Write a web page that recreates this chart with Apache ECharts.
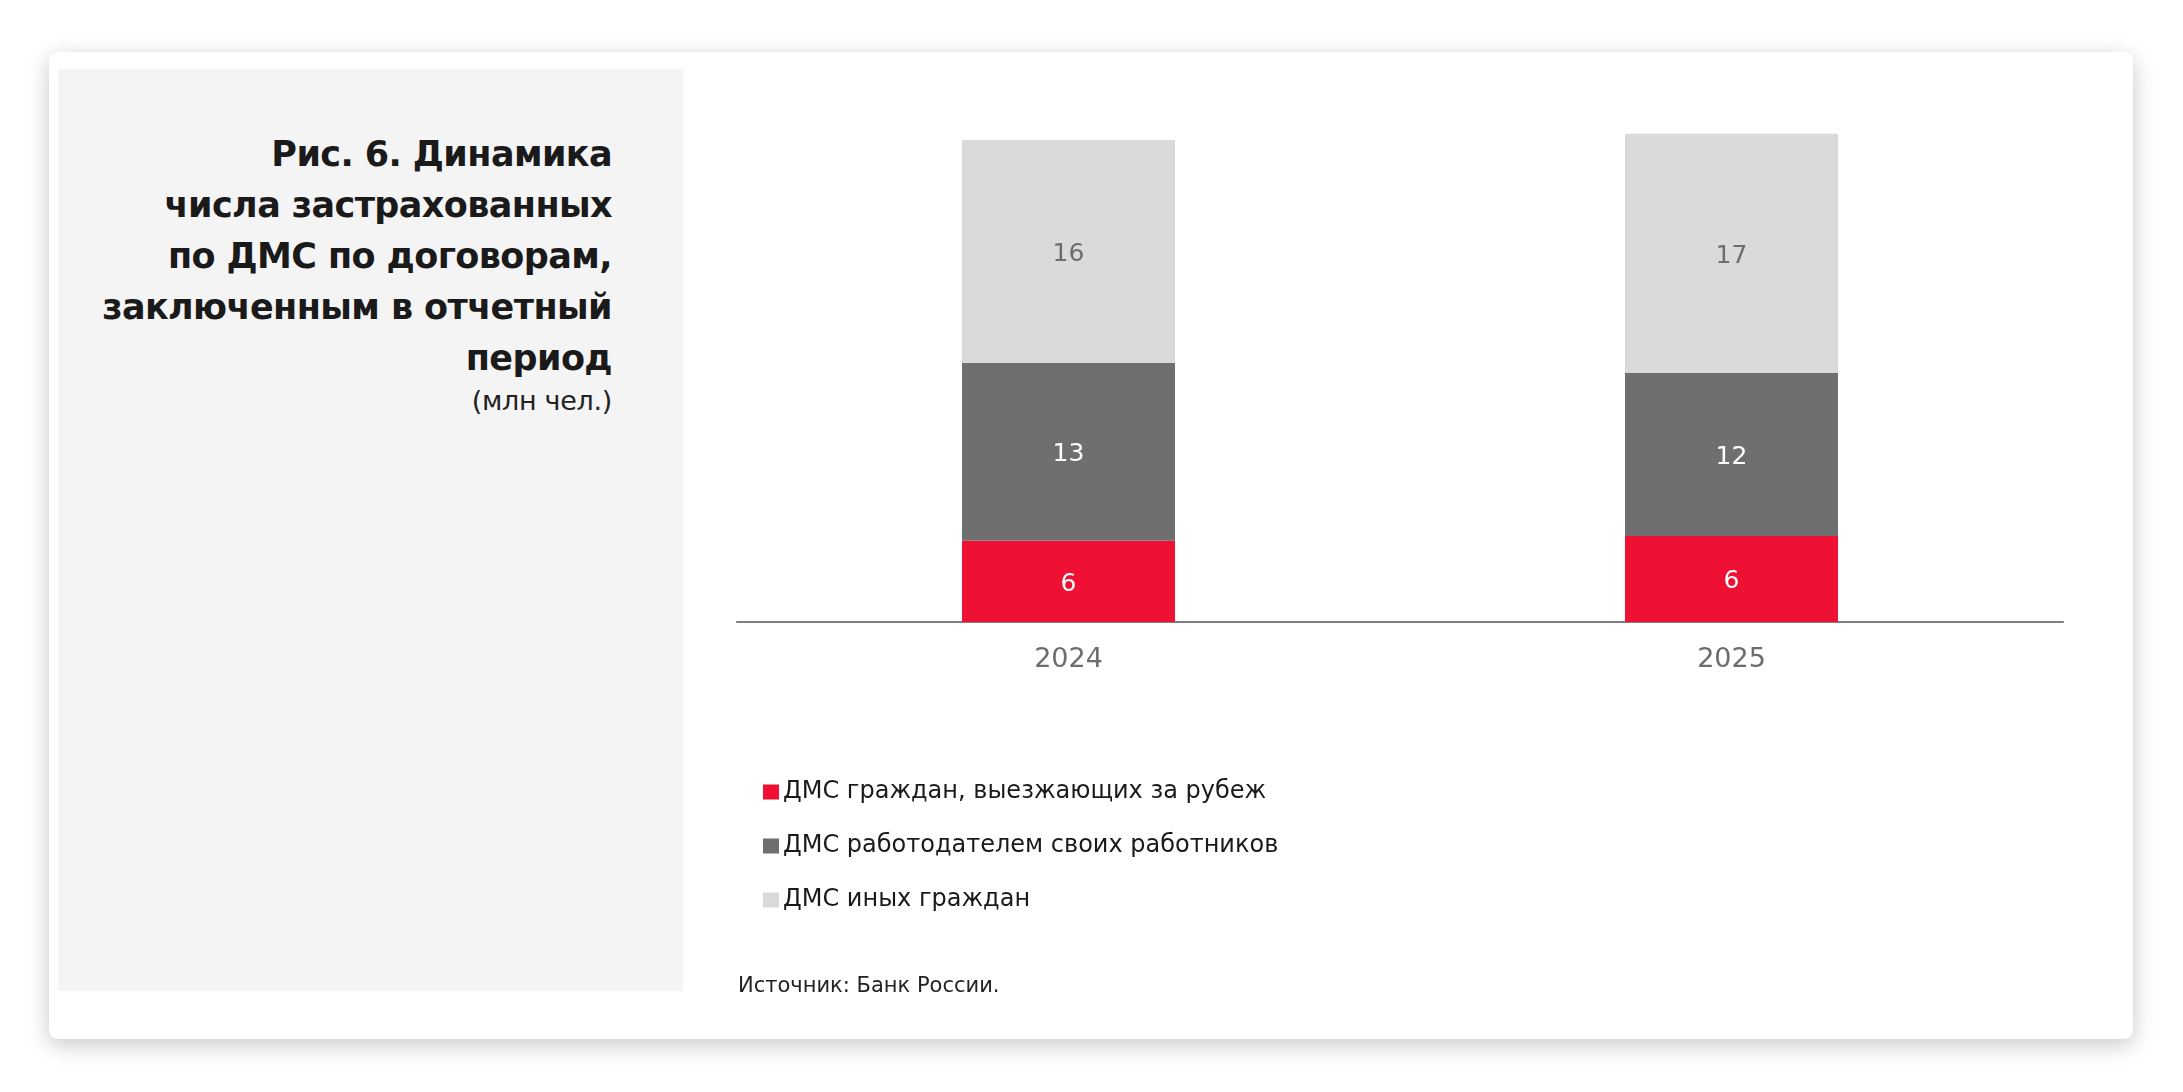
<!DOCTYPE html>
<html>
<head>
<meta charset="utf-8">
<script src="https://cdn.jsdelivr.net/npm/echarts@6/dist/echarts.min.js"></script>
<style>
  html, body { margin: 0; padding: 0; background: #ffffff; }
  #card {
    position: absolute; left: 49px; top: 52px; width: 2084px; height: 987px;
    background: #fff; border-radius: 9px;
    box-shadow: 0 6px 22px rgba(0,0,0,0.22);
  }
  #panel {
    position: absolute; left: 58px; top: 69px; width: 625px; height: 922px;
    background: #f4f4f4;
  }
  #title {
    position: absolute; right: 71px; top: 60px; text-align: right;
    font-family: "DejaVu Sans", sans-serif; font-weight: bold;
    font-size: 35px; line-height: 51px; color: #1a1a1a; letter-spacing: -0.6px;
  }
  #unit {
    font-weight: normal; font-size: 27px; line-height: 34px; color: #222; letter-spacing: -0.3px;
  }
  #chart { position: absolute; left: 0; top: 0; width: 2183px; height: 1092px; }
</style>
</head>
<body>
<div id="card"></div>
<div id="panel">
  <div id="title">Рис. 6. Динамика<br>числа застрахованных<br>по ДМС по договорам,<br>заключенным в отчетный<br>период<div id="unit">(млн чел.)</div></div>
</div>
<div id="chart"></div>
<script>
// годы
var years = ['2024', '2025'];
// млн чел., оценка по высоте сегментов
var abroad = [5.9, 6.25];
var employer = [12.9, 11.85];
var others = [16.2, 17.35];
var names = ['ДМС граждан, выезжающих за рубеж', 'ДМС работодателем своих работников', 'ДМС иных граждан'];
var colors = ['#ee1133', '#6e6f6e', '#dadada'];

var chart = echarts.init(document.getElementById('chart'));

function seg(name, data, color, labelColor) {
    return {
        name: name,
        type: 'bar',
        stack: 'all',
        barWidth: 213,
        data: data,
        itemStyle: { color: color },
        label: {
            show: true,
            position: 'inside',
            offset: [0, 3],
            fontFamily: 'DejaVu Sans',
            fontSize: 25,
            color: labelColor,
            formatter: function (p) { return Math.round(p.value); }
        }
    };
}

var option = {
    animation: false,
    backgroundColor: 'transparent',
    grid: { left: 737, right: 120, top: 71, bottom: 470 },
    xAxis: {
        type: 'category',
        data: years,
        axisLine: { lineStyle: { color: '#808080', width: 2 } },
        axisTick: { show: false },
        axisLabel: { margin: 24, fontFamily: 'DejaVu Sans', fontSize: 27, color: '#6d6d6d' }
    },
    yAxis: { type: 'value', min: 0, max: 40, show: false },
    legend: {
        orient: 'vertical',
        left: 758, top: 775,
        itemWidth: 16, itemHeight: 15, itemGap: 30,
        icon: 'rect',
        data: names,
        textStyle: { fontFamily: 'DejaVu Sans', fontSize: 24, color: '#1a1a1a', padding: [0, 0, 0, -1] }
    },
    graphic: [{
        type: 'text',
        left: 738, top: 976,
        style: { text: 'Источник: Банк России.', font: '21px "DejaVu Sans"', fill: '#222' }
    }],
    series: [
        seg(names[0], abroad, colors[0], '#ffffff'),
        seg(names[1], employer, colors[1], '#ffffff'),
        seg(names[2], others, colors[2], '#6d6d6d')
    ]
};
chart.setOption(option);
</script>
</body>
</html>
